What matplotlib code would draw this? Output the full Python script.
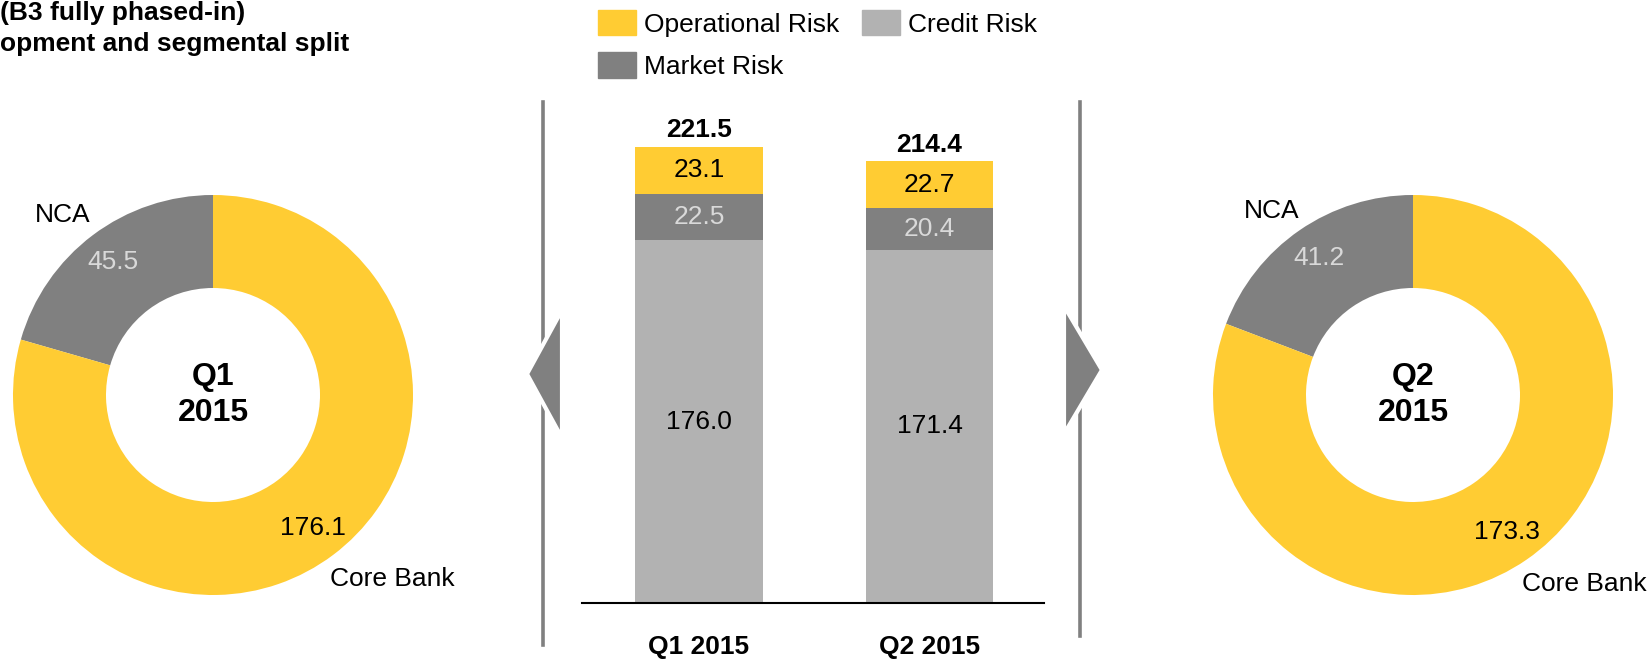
import numpy as np
import matplotlib
matplotlib.use("Agg")
import matplotlib.pyplot as plt
from matplotlib.patches import Patch, Polygon
from matplotlib.lines import Line2D

plt.rcParams["font.family"] = ["Liberation Sans", "DejaVu Sans"]

# data
quarters = ["Q1 2015", "Q2 2015"]
credit_risk = [176.0, 171.4]
market_risk = [22.5, 20.4]
operational_risk = [23.1, 22.7]
totals = [221.5, 214.4]

segments = ["NCA", "Core Bank"]
seg_q1 = [45.5, 176.1]
seg_q2 = [41.2, 173.3]
donut_titles = ["Q1\n2015", "Q2\n2015"]

YELLOW = "#FFCC33"
DARK = "#808080"
LIGHT = "#B2B2B2"
PALE_TXT = "#D9D9D9"
FS = 19

W, H = 1652, 660
fig = plt.figure(figsize=(W / 100, H / 100), dpi=100)


def px_axes(x0, y0, x1, y1):
    # pixel box (top-left origin) -> figure axes
    return fig.add_axes([x0 / W, 1 - y1 / H, (x1 - x0) / W, (y1 - y0) / H])


def donut(ax, vals, title, nca_xy, core_xy):
    wedges, _ = ax.pie(vals, colors=[DARK, YELLOW], startangle=90, counterclock=True,
                       radius=1, wedgeprops=dict(width=0.465, linewidth=0))
    ax.set_xlim(-1, 1)
    ax.set_ylim(-1, 1)
    ax.set_aspect("equal")
    ax.axis("off")
    for w, v, col in zip(wedges, vals, [PALE_TXT, "black"]):
        ang = np.deg2rad((w.theta1 + w.theta2) / 2)
        ax.text(0.83 * np.cos(ang), 0.83 * np.sin(ang), f"{v:.1f}", ha="center",
                va="center", fontsize=FS, color=col)
    ax.text(0, 0, title, ha="center", va="center", fontsize=23, fontweight="bold",
            linespacing=1.25)
    ax.text(*nca_xy, "NCA", ha="center", va="center", fontsize=FS, clip_on=False)
    ax.text(*core_xy, "Core Bank", ha="center", va="center", fontsize=FS, clip_on=False)


ax1 = px_axes(13, 195, 413, 595)
donut(ax1, seg_q1, donut_titles[0], (-0.75, 0.9), (0.895, -0.92))
ax2 = px_axes(1213, 195, 1613, 595)
donut(ax2, seg_q2, donut_titles[1], (-0.705, 0.92), (0.855, -0.945))

# stacked bars
axb = px_axes(582, 100, 1044, 603)
x = np.arange(len(quarters))
b1 = axb.bar(x, credit_risk, width=0.555, color=LIGHT, label="Credit Risk")
b2 = axb.bar(x, market_risk, width=0.555, bottom=credit_risk, color=DARK, label="Market Risk")
bot3 = np.array(credit_risk) + np.array(market_risk)
b3 = axb.bar(x, operational_risk, width=0.555, bottom=bot3, color=YELLOW,
             label="Operational Risk")
axb.bar_label(b1, labels=[f"{v:.1f}" for v in credit_risk], label_type="center", fontsize=FS)
axb.bar_label(b2, labels=[f"{v:.1f}" for v in market_risk], label_type="center",
              fontsize=FS, color=PALE_TXT)
axb.bar_label(b3, labels=[f"{v:.1f}" for v in operational_risk], label_type="center", fontsize=FS)
for xi, t in zip(x, totals):
    axb.annotate(f"{t:.1f}", (xi, t), xytext=(0, 12), textcoords="offset points",
                 ha="center", va="center", fontsize=FS, fontweight="bold")
axb.set_xlim(-0.508, 1.497)
axb.set_ylim(0, 503 / 2.06)
axb.set_xticks(x, quarters, fontsize=FS, fontweight="bold")
axb.tick_params(axis="x", length=0, pad=23)
axb.set_yticks([])
for s in ["top", "left", "right"]:
    axb.spines[s].set_visible(False)
axb.spines["bottom"].set_linewidth(1.5)

handles = [Patch(color=YELLOW), Patch(color=DARK), Patch(color=LIGHT)]
labels = ["Operational Risk", "Market Risk", "Credit Risk"]
fig.legend(handles, labels, loc="upper left", bbox_to_anchor=(598 / W, 1 - 10 / H),
           ncol=2, frameon=False, fontsize=FS, handlelength=1.45, handleheight=1.1,
           handletextpad=0.3, columnspacing=0.85, labelspacing=0.6, borderpad=0,
           borderaxespad=0)

# separators and arrows
def vline(xp, y0, y1):
    fig.add_artist(Line2D([xp / W, xp / W], [1 - y0 / H, 1 - y1 / H], color=DARK,
                          linewidth=2.6, zorder=1))


def arrow(pts):
    fig.add_artist(Polygon([(px / W, 1 - py / H) for px, py in pts], closed=True,
                           facecolor=DARK, edgecolor="white", linewidth=3, zorder=2))


vline(543, 102, 645)
vline(1080, 102, 636)
arrow([(527, 374), (562, 310), (562, 438)])
arrow([(1102, 370), (1064, 306), (1064, 434)])

fig.text(0, 1 - 1 / H, "(B3 fully phased-in)\nopment and segmental split", ha="left",
         va="top", fontsize=19, fontweight="bold", linespacing=1.35)

fig.savefig("out.png", dpi=100)
